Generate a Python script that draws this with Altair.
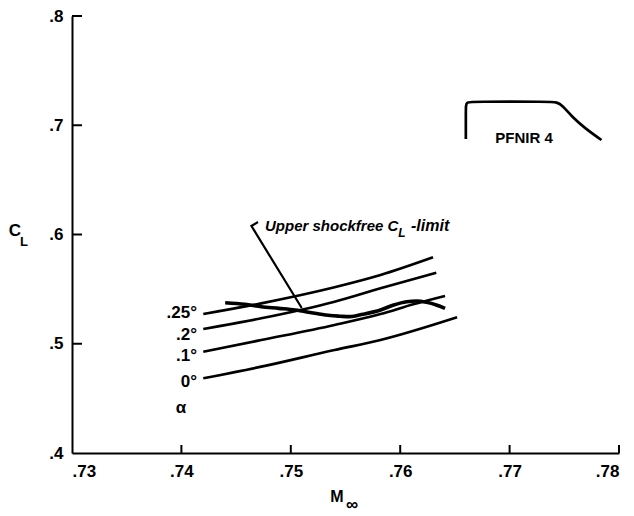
import altair as alt
import pandas as pd

# Lift coefficient vs. free-stream Mach number, PFNIR 4 airfoil
mach_025 = [0.7420, 0.7473, 0.7540, 0.7582, 0.7630]
cl_025 = [0.5272, 0.5370, 0.5517, 0.5629, 0.5791]
mach_020 = [0.7420, 0.7473, 0.7540, 0.7582, 0.7633]
cl_020 = [0.5135, 0.5233, 0.5385, 0.5508, 0.5650]
mach_010 = [0.7420, 0.7473, 0.7540, 0.7582, 0.7612, 0.7641]
cl_010 = [0.4927, 0.5034, 0.5172, 0.5272, 0.5361, 0.5437]
mach_000 = [0.7420, 0.7473, 0.7540, 0.7582, 0.7652]
cl_000 = [0.4684, 0.4790, 0.4943, 0.5034, 0.5242]
alpha_labels = [".25°", ".2°", ".1°", "0°"]

# Upper shock-free C_L limit
mach_limit = [0.7440, 0.7458, 0.7473, 0.7489, 0.7504, 0.7522, 0.7536, 0.7545,
              0.7554, 0.7566, 0.7582, 0.7594, 0.7606, 0.7615, 0.7624, 0.7633, 0.7641]
cl_limit = [0.5376, 0.5361, 0.5339, 0.5324, 0.5309, 0.5279, 0.5258, 0.5252,
            0.5248, 0.5270, 0.5309, 0.5355, 0.5385, 0.5391, 0.5379, 0.5355, 0.5324]

# Leader from the annotation to the limit curve
leader_mach = [0.7470, 0.7464, 0.7510]
leader_cl = [0.6114, 0.6078, 0.5327]

# Airfoil profile sketch
foil_mach = [0.7660, 0.7660, 0.7660, 0.7661, 0.7665, 0.7738, 0.7743, 0.7748, 0.7757,
             0.7769, 0.7784]
foil_cl = [0.6874, 0.7100, 0.7185, 0.7210, 0.7216, 0.7216, 0.7210, 0.7185, 0.7078,
           0.6972, 0.6865]

x_ticks = [0.73, 0.74, 0.75, 0.76, 0.77, 0.78]
y_ticks = [0.4, 0.5, 0.6, 0.7, 0.8]

FONT = "Liberation Sans, Arial, sans-serif"
W, H = 547, 437

series = []
for lab, xs_, ys_ in zip(alpha_labels,
                         [mach_025, mach_020, mach_010, mach_000],
                         [cl_025, cl_020, cl_010, cl_000]):
    for i, (m, c) in enumerate(zip(xs_, ys_)):
        series.append({"alpha": lab, "step": i, "mach": m, "cl": c})
curves = pd.DataFrame(series)

limit = pd.DataFrame({"mach": mach_limit, "cl": cl_limit})
leader = pd.DataFrame({"mach": leader_mach, "cl": leader_cl, "step": range(len(leader_mach))})
foil = pd.DataFrame({"mach": foil_mach, "cl": foil_cl, "step": range(len(foil_mach))})

xs = alt.Scale(domain=[0.73, 0.78], nice=False, zero=False)
ys = alt.Scale(domain=[0.4, 0.8], nice=False, zero=False)

axis_style = dict(ticks=False, grid=False, title=None, domainWidth=2,
                  domainColor="black", labelColor="black", labelFont=FONT,
                  labelFontWeight="bold", labelFontSize=17)
x_axis = alt.Axis(values=x_ticks, labelExpr="substring(format(datum.value, '.2f'), 1)",
                  labelPadding=10, **axis_style)
y_axis = alt.Axis(values=y_ticks, labelExpr="substring(format(datum.value, '.1f'), 1)",
                  labelPadding=9, **axis_style)

X = alt.X("mach:Q", scale=xs, axis=x_axis)
Y = alt.Y("cl:Q", scale=ys, axis=y_axis)

alpha_lines = alt.Chart(curves).mark_line(
    color="black", strokeWidth=2.7, interpolate="monotone").encode(
    x=X, y=Y, detail="alpha:N", order="step:Q")

limit_line = alt.Chart(limit).mark_line(
    color="black", strokeWidth=3.6, interpolate="monotone").encode(
    x=alt.X("mach:Q", scale=xs), y=alt.Y("cl:Q", scale=ys))

leader_line = alt.Chart(leader).mark_line(color="black", strokeWidth=2.2).encode(
    x=alt.X("mach:Q", scale=xs), y=alt.Y("cl:Q", scale=ys), order="step:Q")

foil_line = alt.Chart(foil).mark_line(
    color="black", strokeWidth=2.7, interpolate="basis").encode(
    x=alt.X("mach:Q", scale=xs), y=alt.Y("cl:Q", scale=ys), order="step:Q")

# Inward tick marks
xt = alt.Chart(pd.DataFrame({"v": x_ticks[1:]})).mark_rule(color="black", strokeWidth=2).encode(
    x=alt.X("v:Q", scale=xs), y=alt.value(H), y2=alt.value(H - 8))
yt = alt.Chart(pd.DataFrame({"v": y_ticks[1:]})).mark_rule(color="black", strokeWidth=2).encode(
    y=alt.Y("v:Q", scale=ys), x=alt.value(0), x2=alt.value(10))


def label(text, x, y, size=17, align="left", style="normal"):
    return alt.Chart(pd.DataFrame({"t": [text]})).mark_text(
        align=align, baseline="middle", font=FONT, fontWeight="bold",
        fontStyle=style, fontSize=size, color="black").encode(
        x=alt.value(x), y=alt.value(y), text="t:N")


# angle-of-attack labels at the left ends of the curves
alpha_y = [297, 319, 340, 366]
texts = [label(t, 125, y, size=17, align="right") for t, y in zip(alpha_labels, alpha_y)]

texts += [
    label("α", 109, 392, size=17, align="center"),
    label("C", -57, 215, size=17, align="center"),
    label("L", -48, 226, size=13, align="center"),
    label("M", 265, 481, size=16, align="center"),
    label("∞", 280, 489, size=17, align="center"),
    label("PFNIR 4", 452, 122, size=15, align="center"),
    label("Upper shockfree C", 193, 210, size=15, style="italic"),
    label("L", 330, 217, size=12, align="center", style="italic"),
    label("-limit", 339, 210, size=16, style="italic"),
]

chart = alt.layer(alpha_lines, limit_line, leader_line, foil_line, xt, yt,
                  *texts).properties(
    width=W, height=H,
    background="white",
    autosize=alt.AutoSizeParams(type="none"),
    padding={"left": 72, "top": 16, "right": 15, "bottom": 63},
).configure_view(strokeWidth=0)

chart.save("out.html", embed_options={"renderer": "svg", "actions": False})
